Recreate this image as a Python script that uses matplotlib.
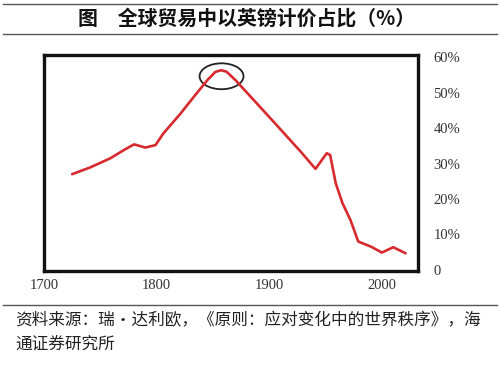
import matplotlib.pyplot as plt
from matplotlib.patches import Ellipse
from matplotlib.lines import Line2D

plt.rcParams['font.family'] = ['Noto Sans CJK SC', 'DejaVu Sans']

# 数据
years = [1725, 1741, 1759, 1772, 1780, 1790, 1799, 1806, 1821, 1833, 1845,
         1852, 1857, 1862, 1870, 1900, 1928, 1941, 1951, 1954, 1959, 1965,
         1972, 1979, 1990, 2000, 2010, 2021]
share = [27.0, 28.9, 31.5, 34.0, 35.4, 34.5, 35.2, 38.5, 44.0, 48.8, 53.5,
         55.8, 56.3, 55.9, 53.5, 43.1, 33.3, 28.5, 32.9, 32.4, 24.4, 18.8,
         14.1, 8.0, 6.6, 4.9, 6.4, 4.7]
x_ticks = [1700, 1800, 1900, 2000]
y_ticks = [0, 10, 20, 30, 40, 50, 60]
y_labels = ['0', '10%', '20%', '30%', '40%', '50%', '60%']
peak_year, peak_val = 1857.6, 54.6

title = '图　全球贸易中以英镑计价占比（%）'
source = '资料来源：瑞·达利欧，《原则：应对变化中的世界秩序》，海\n通证券研究所'

fig = plt.figure(figsize=(5, 3.68), dpi=100)
ax = fig.add_axes([0.088, 0.2636, 0.748, 0.587])

ax.plot(years, share, color='#d62a2e', linewidth=1.9,
        solid_joinstyle='round', solid_capstyle='round')

# 峰值处的圈
ax.add_patch(Ellipse((peak_year, peak_val), width=39, height=7.3,
                     fill=False, edgecolor='#222222', linewidth=1.3))

ax.set_xlim(1700, 2032)
ax.set_ylim(-0.3, 60.6)
ax.set_xticks(x_ticks)
ax.set_yticks(y_ticks)
ax.set_yticklabels(y_labels)
ax.yaxis.tick_right()
ax.tick_params(axis='both', length=0, colors='#333333', labelsize=10.5)
ax.tick_params(axis='y', pad=11)
ax.tick_params(axis='x', pad=6)
for lbl in ax.get_xticklabels() + ax.get_yticklabels():
    lbl.set_fontfamily('Liberation Serif')
for sp in ax.spines.values():
    sp.set_linewidth(2.4)
    sp.set_color('#111111')

# 标题与分隔线
fig.text(0.494, 1 - 18 / 368, title, ha='center', va='center',
         fontsize=14.3, fontweight='bold', color='#111111')
for yy in [3.5, 33.5, 305]:
    fig.add_artist(Line2D([0.006, 0.994], [1 - yy / 368, 1 - yy / 368],
                          color='#555555', linewidth=1.0))

fig.text(0.03, 1 - 332 / 368, source, ha='left', va='center',
         fontsize=12, color='#222222', linespacing=1.5)

fig.savefig('out.png', dpi=100)
